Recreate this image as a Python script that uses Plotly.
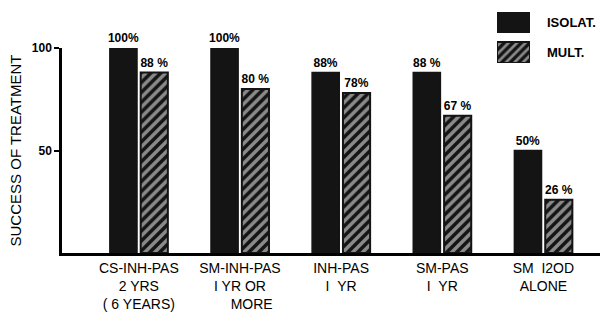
import plotly.graph_objects as go

categories = ["CS-INH-PAS<br>2 YRS<br>( 6 YEARS)", "SM-INH-PAS<br>I YR OR<br>&nbsp;&nbsp;&nbsp;&nbsp;&nbsp;&nbsp;MORE",
              "INH-PAS<br>I&nbsp;&nbsp;YR", "SM-PAS<br>I&nbsp;&nbsp;YR", "SM&nbsp;&nbsp;I2OD<br>ALONE"]
isolat = [100, 100, 88, 88, 50]
mult = [88, 80, 78, 67, 26]
isolat_labels = ["100%", "100%", "88%", "88 %", "50%"]
mult_labels = ["88 %", "80 %", "78%", "67 %", "26 %"]
legend_names = ["ISOLAT.", "MULT."]

FONT = "Liberation Sans"
W, H = 609, 314
ml, mr, mt, mb = 62, 9, 10, 61
ph = H - mt - mb
pw = W - ml - mr
main_top = (H - mb - 48) / ph
BLACK = "#141414"
hatch = dict(shape="/", fgcolor="white", bgcolor=BLACK, size=7, solidity=0.5)

fig = go.Figure()
xs = list(range(len(categories)))
fig.add_trace(go.Bar(x=xs, y=isolat, name=legend_names[0],
                     marker=dict(color=BLACK, line=dict(width=1.5, color=BLACK)),
                     text=isolat_labels, textposition="outside", cliponaxis=False, constraintext="none",
                     textfont=dict(family=FONT, size=12, color="black", weight="bold")))
fig.add_trace(go.Bar(x=xs, y=mult, name=legend_names[1],
                     marker=dict(color=BLACK, line=dict(width=2, color=BLACK), pattern=hatch),
                     text=mult_labels, textposition="outside", cliponaxis=False, constraintext="none",
                     textfont=dict(family=FONT, size=12, color="black", weight="bold")))

# custom legend swatches
lx0, lx1 = (497 - ml) / pw, (530 - ml) / pw
ly0, ly1 = (H - mb - 63) / ph, (H - mb - 12) / ph
fig.add_trace(go.Scatter(x=[0, 1, 1, 0, 0], y=[0.588, 0.588, 1, 1, 0.588], mode="lines", fill="toself",
                         fillcolor=BLACK, line=dict(width=0), xaxis="x2", yaxis="y2",
                         hoverinfo="skip", showlegend=False))
fig.add_trace(go.Scatter(x=[0, 1, 1, 0, 0], y=[0, 0, 0.412, 0.412, 0], mode="lines", fill="toself",
                         fillcolor=BLACK, line=dict(width=2, color=BLACK), xaxis="x2", yaxis="y2",
                         fillpattern=dict(shape="/", fgcolor="white", bgcolor=BLACK, size=6, solidity=0.45),
                         hoverinfo="skip", showlegend=False))

fig.add_annotation(x=(545 - ml) / pw, y=(H - mb - 22) / ph, xref="paper", yref="paper", text=legend_names[0],
                   showarrow=False, xanchor="left", yanchor="middle",
                   font=dict(family=FONT, size=13, color="black", weight="bold"))
fig.add_annotation(x=(545 - ml) / pw, y=(H - mb - 52) / ph, xref="paper", yref="paper", text=legend_names[1],
                   showarrow=False, xanchor="left", yanchor="middle",
                   font=dict(family=FONT, size=13, color="black", weight="bold"))

fig.update_layout(
    width=W, height=H,
    margin=dict(l=ml, r=mr, t=mt, b=mb, autoexpand=False),
    plot_bgcolor="white", paper_bgcolor="white",
    barmode="group", bargap=0.39, bargroupgap=0.12,
    showlegend=False,
    font=dict(family=FONT, color="black"),
    xaxis=dict(range=[-0.76, 4.56], tickmode="array", tickvals=xs, ticktext=categories,
               showline=True, linecolor="black", linewidth=2.5, ticks="", showgrid=False,
               zeroline=False, automargin=False, tickfont=dict(family=FONT, size=14, color="black")),
    yaxis=dict(range=[0, 100], domain=[0, main_top], tickvals=[50, 100], ticks="outside", ticklen=5,
               tickwidth=2, tickcolor="black", showline=True, linecolor="black", linewidth=2.5,
               showgrid=False, zeroline=False, automargin=False,
               tickfont=dict(family=FONT, size=12, color="black", weight="bold"),
               title=dict(text="SUCCESS OF TREATMENT", standoff=7,
                          font=dict(family=FONT, size=15, color="black"))),
    xaxis2=dict(domain=[lx0, lx1], range=[0, 1], visible=False, anchor="y2"),
    yaxis2=dict(domain=[ly0, ly1], range=[0, 1], visible=False, anchor="x2"),
)

fig.write_html("out.html", config={"displayModeBar": False},
               post_script="document.body.style.margin='0';document.body.style.overflow='hidden';")
